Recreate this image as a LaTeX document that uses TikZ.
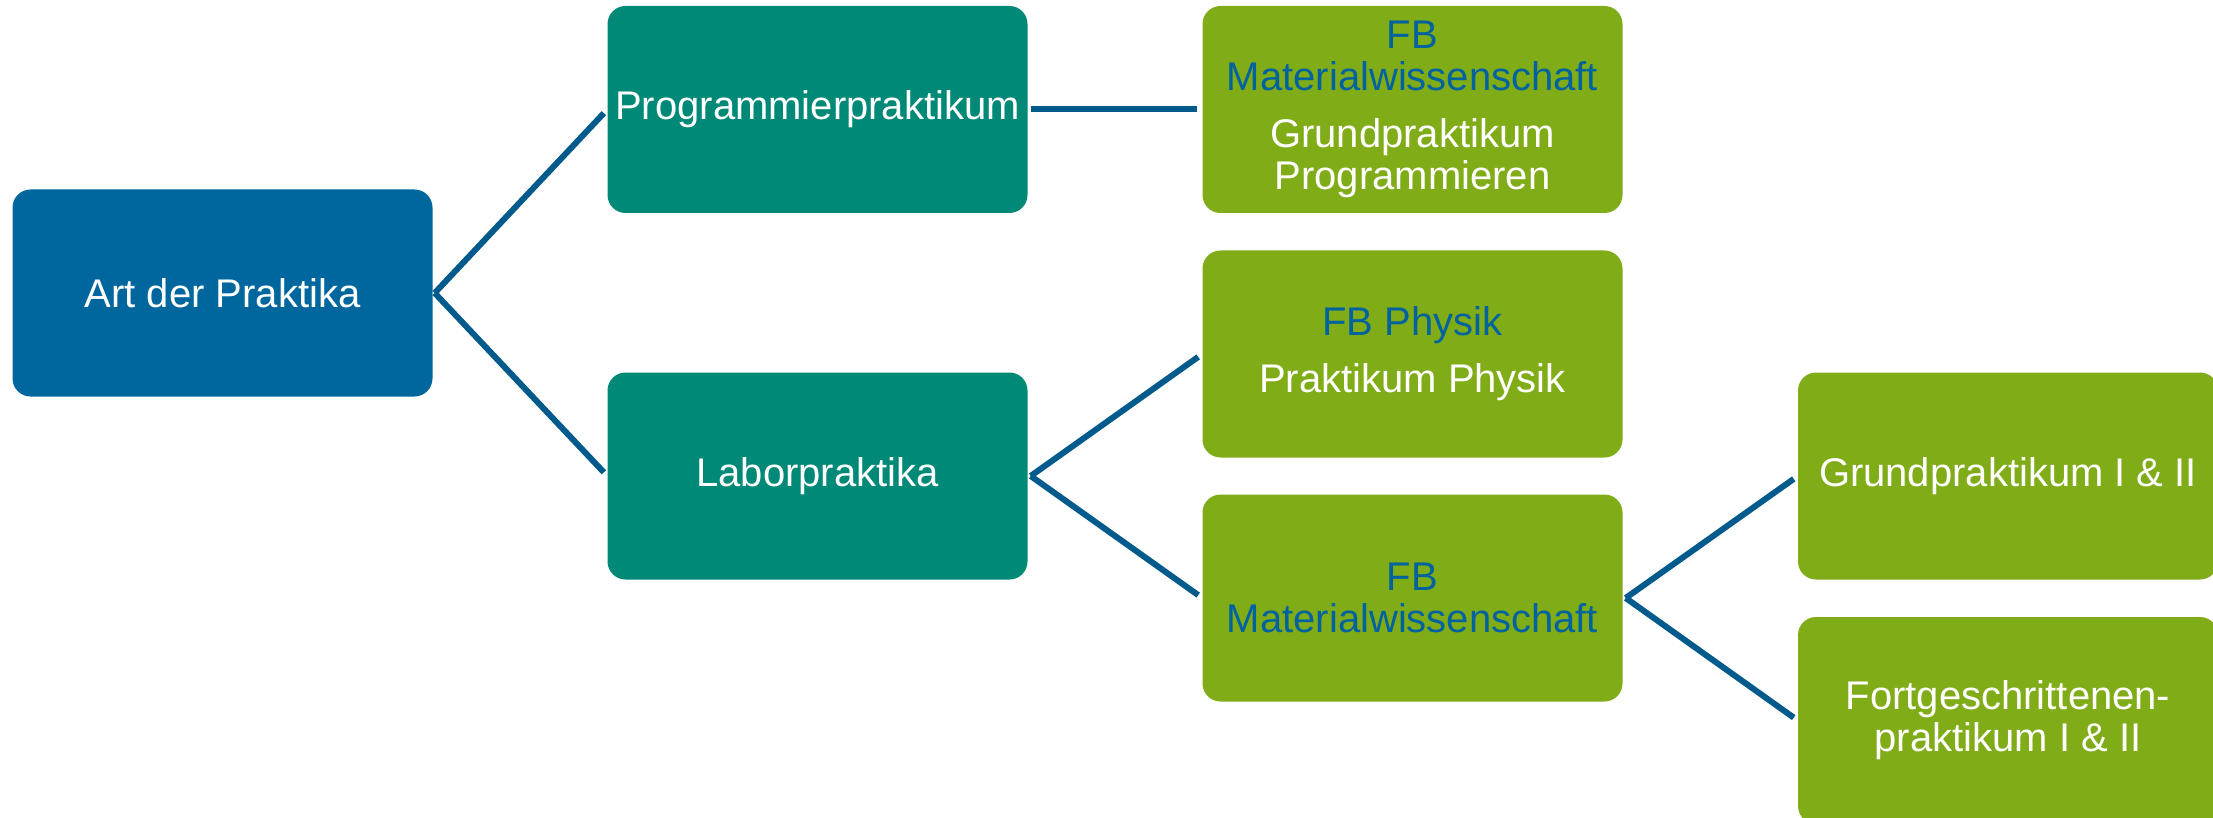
\documentclass[tikz,border=0pt]{standalone}
\usepackage{fontspec}
\setmainfont{Liberation Sans}
\definecolor{rootblue}{RGB}{0,103,158}
\definecolor{teal}{RGB}{0,137,119}
\definecolor{leaf}{RGB}{128,172,24}
\definecolor{fbblue}{RGB}{0,98,158}
\definecolor{conncol}{RGB}{0,91,140}
\begin{document}
\begin{tikzpicture}[x=1pt,y=-1pt,
  box/.style={rounded corners=18pt, minimum width=420pt, minimum height=207pt,
    inner sep=0pt, align=center, text=white,
    font=\fontsize{40}{42}\selectfont},
  rootbox/.style={box, fill=rootblue},
  midbox/.style={box, fill=teal},
  leafbox/.style={box, fill=leaf},
  conn/.style={draw=conncol, line width=6pt, shorten >=5pt}]
\clip (0,0) rectangle (2213,818);
\node[rootbox] (art) at (222.5,293) {\raisebox{-3pt}{Art der Praktika}};
\node[midbox] (prog) at (817.5,109.5) {Programmierpraktikum};
\node[midbox] (labor) at (817.5,476) {\raisebox{-3pt}{Laborpraktika}};
\node[leafbox] (fbprog) at (1412.5,109.5) {\textcolor{fbblue}{FB}\\\textcolor{fbblue}{Materialwissenschaft}\\[15pt]Grundpraktikum\\Programmieren};
\node[leafbox] (fbphys) at (1412.5,354) {\textcolor{fbblue}{FB Physik}\\[15pt]Praktikum Physik};
\node[leafbox] (fbmat) at (1412.5,598) {\textcolor{fbblue}{FB}\\\textcolor{fbblue}{Materialwissenschaft}};
\node[leafbox] (grund) at (2008,476) {\raisebox{-3pt}{Grundpraktikum I \& II}};
\node[leafbox] (fort) at (2008,720.5) {Fortgeschrittenen-\\praktikum I \& II};
\draw[conn] ([xshift=2pt]art.east) -- (prog.west);
\draw[conn] ([xshift=2pt]art.east) -- (labor.west);
\draw[conn] ([xshift=3pt]prog.east) -- (fbprog.west);
\draw[conn] ([xshift=3pt]labor.east) -- (fbphys.west);
\draw[conn] ([xshift=3pt]labor.east) -- (fbmat.west);
\draw[conn] ([xshift=3pt]fbmat.east) -- (grund.west);
\draw[conn] ([xshift=3pt]fbmat.east) -- (fort.west);
\end{tikzpicture}
\end{document}
